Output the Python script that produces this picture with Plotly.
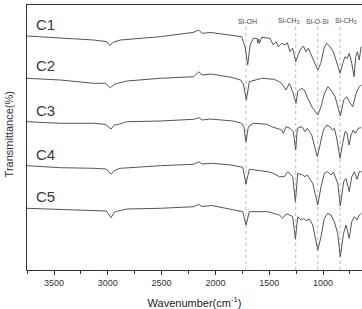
import plotly.graph_objects as go

# ---- data (wavenumber in cm^-1, transmittance in stacked arbitrary units) ----
c1_wn = [3751, 3441, 3131, 3008, 2982, 2952, 2921, 2884, 2512, 2202, 2155, 2125, 2041, 1855, 1756, 1725, 1700, 1678,
         1648, 1612, 1605, 1598, 1592, 1570, 1493, 1462, 1437, 1415, 1384, 1353, 1332, 1307, 1282, 1254, 1235, 1214,
         1183, 1158, 1137, 1105, 1074, 1049, 1021, 991, 966, 935, 904, 873, 842, 817, 796, 774, 756, 733, 712, 696,
         681, 663, 647]
c1_t = [234, 232.3, 230, 228.3, 224.3, 227.7, 229, 230, 233.3, 237.7, 240, 236.7, 237.5, 235, 233.3, 223.3, 205, 225,
        231.7, 231.5, 227, 231, 226.5, 232.7, 231.7, 225, 228.3, 223.3, 226.7, 225, 227.3, 218.3, 221.7, 208.3, 213.3, 220,
        224, 218.3, 221.7, 213.3, 205, 200, 206.7, 221.7, 226.7, 223.3, 218.3, 208.3, 196.7, 206.7, 213.3, 211.7, 216.7,
        206.7, 193.3, 213.3, 218.3, 210, 223.3]

c2_wn = [3751, 3441, 3131, 3023, 2977, 2940, 2908, 2822, 2512, 2202, 2155, 2125, 2041, 1855, 1766, 1740, 1713, 1685,
         1570, 1453, 1390, 1344, 1313, 1282, 1251, 1235, 1204, 1173, 1142, 1096, 1049, 1019, 988, 956, 926, 888, 839,
         808, 780, 757, 724, 693, 663, 644]
c2_t = [191.7, 190, 186.7, 186.7, 182.3, 185.7, 186.7, 189, 191.7, 193.3, 198.3, 195, 196, 192.7, 190, 186, 170, 188.3,
        191.7, 190.7, 187.3, 180, 186.7, 178.3, 166.7, 178.3, 181.7, 180, 171.7, 161.7, 155, 163.3, 176, 183.3, 180, 173.3,
        154, 170, 173.3, 168.3, 163.3, 176.7, 183.3, 185]

c3_wn = [3751, 3441, 3131, 3023, 2970, 2940, 2899, 2822, 2512, 2202, 2155, 2125, 2050, 1834, 1756, 1735, 1716, 1694,
         1648, 1523, 1477, 1430, 1384, 1369, 1344, 1307, 1276, 1254, 1239, 1198, 1167, 1146, 1105, 1074, 1053, 1028,
         997, 966, 935, 914, 895, 873, 842, 817, 796, 780, 758, 740, 718, 702, 672, 647]
c3_t = [148.3, 146.7, 146.7, 145.7, 141, 145, 145.7, 148.3, 149, 150.7, 152.3, 150, 151, 149, 146.7, 143, 128.3, 143.3,
        146.7, 145.7, 143.3, 141.7, 140, 136.7, 143.3, 141.7, 138.3, 120, 141.7, 143.3, 138.3, 141.7, 135, 121.7, 113.3,
        125, 140, 145, 143.3, 140, 141.7, 131.7, 111.7, 126.7, 138.3, 137.7, 125, 135, 140, 136.7, 141.7, 142.3]

c4_wn = [3751, 3441, 3131, 3014, 2970, 2930, 2884, 2512, 2202, 2155, 2125, 2034, 1855, 1746, 1716, 1685, 1514, 1462,
         1406, 1360, 1328, 1282, 1257, 1235, 1189, 1167, 1146, 1096, 1074, 1049, 1019, 988, 957, 926, 904, 863, 840,
         808, 787, 757, 733, 709, 684, 663, 644]
c4_t = [104.3, 102.3, 101.7, 101, 95.7, 100, 101.7, 104.3, 105.7, 108.3, 106, 106.7, 105, 102.7, 86, 100.7, 98.3, 96.7,
        93.3, 93.3, 98.3, 93.3, 68.3, 96.7, 95, 93.3, 95, 86.7, 76.7, 65, 83.3, 96.7, 98.3, 95, 98, 86.7, 64, 88.3, 91.7,
        78.3, 93.3, 98.3, 90.7, 98.3, 98.3]

c5_wn = [3751, 3441, 3131, 3014, 2970, 2940, 2908, 2822, 2512, 2202, 2155, 2125, 2034, 1855, 1746, 1716, 1685, 1514,
         1453, 1406, 1375, 1353, 1328, 1282, 1257, 1235, 1204, 1179, 1158, 1127, 1096, 1072, 1049, 1019, 988, 957, 926,
         895, 864, 840, 809, 787, 757, 733, 709, 684, 663, 644]
c5_t = [61.7, 60.7, 60, 59, 52.3, 57.7, 59, 61, 61.7, 63.3, 65.7, 63.5, 64.5, 60.7, 58.3, 45, 58.3, 58.3, 56.7, 55, 51.7,
        55, 56, 53.3, 31, 53.3, 50, 51.7, 49.3, 51, 45, 33.3, 20, 33.3, 51.7, 56.7, 55, 48.3, 36.7, 13.3, 36.7, 45, 31.7,
        48.3, 53.3, 50, 55, 57]

series_names = ["C1", "C2", "C3", "C4", "C5"]
series_wn = [c1_wn, c2_wn, c3_wn, c4_wn, c5_wn]
series_t = [c1_t, c2_t, c3_t, c4_t, c5_t]
label_y = [246, 205, 160, 116, 74]

band_wn = [1716, 1254, 1049, 842]
band_labels = ["Si-OH", "Si-CH<sub>3</sub>", "Si-O-Si", "Si-CH<sub>3</sub>"]
band_label_wn = [1700, 1316, 1049, 791]

x_ticks = [3500, 3000, 2500, 2000, 1500, 1000]

LINE = "#555555"
FONT = "Liberation Sans, Arial, sans-serif"

fig = go.Figure()
for name, wn, t in zip(series_names, series_wn, series_t):
    fig.add_trace(go.Scatter(x=wn, y=t, mode="lines", name=name,
                             line=dict(color=LINE, width=1), showlegend=False, hoverinfo="skip"))

for name, y in zip(series_names, label_y):
    fig.add_annotation(x=3690, y=y, text=name, showarrow=False, xanchor="left", yanchor="middle",
                       font=dict(family=FONT, size=15, color="#3a3a3a"))

for wn in band_wn:
    fig.add_shape(type="line", x0=wn, x1=wn, y0=0, y1=243, xref="x", yref="y",
                  line=dict(color="#999999", width=0.7, dash="dot"), layer="below")

for wn, lab in zip(band_label_wn, band_labels):
    fig.add_annotation(x=wn, y=249, text=lab, showarrow=False, xanchor="center", yanchor="middle",
                       font=dict(family=FONT, size=7, color="#444"))

fig.add_annotation(xref="paper", yref="paper", x=-0.055, y=0.51, text="Transmittance(%)", textangle=-90,
                   showarrow=False, xanchor="center", yanchor="middle",
                   font=dict(family=FONT, size=11, color="#333"))

fig.update_layout(
    width=362, height=309,
    margin=dict(l=27, r=0, t=5, b=39),
    paper_bgcolor="white", plot_bgcolor="white",
    xaxis=dict(range=[3751, 638], tickvals=x_ticks, ticks="outside", ticklen=4, tickcolor="#333",
               showline=True, linecolor="#333", linewidth=1, mirror=True, showgrid=False, zeroline=False,
               tickfont=dict(family=FONT, size=9, color="#333"),
               minor=dict(dtick=250, ticks="outside", ticklen=3, tickcolor="#333", showgrid=False),
               title=dict(text="Wavenumber(cm<sup>-1</sup>)", standoff=13,
                          font=dict(family=FONT, size=11, color="#222"))),
    yaxis=dict(range=[0, 265], showticklabels=False, ticks="", showgrid=False, zeroline=False,
               showline=True, linecolor="#333", linewidth=1, mirror=False),
)

fig.write_html("out.html")
